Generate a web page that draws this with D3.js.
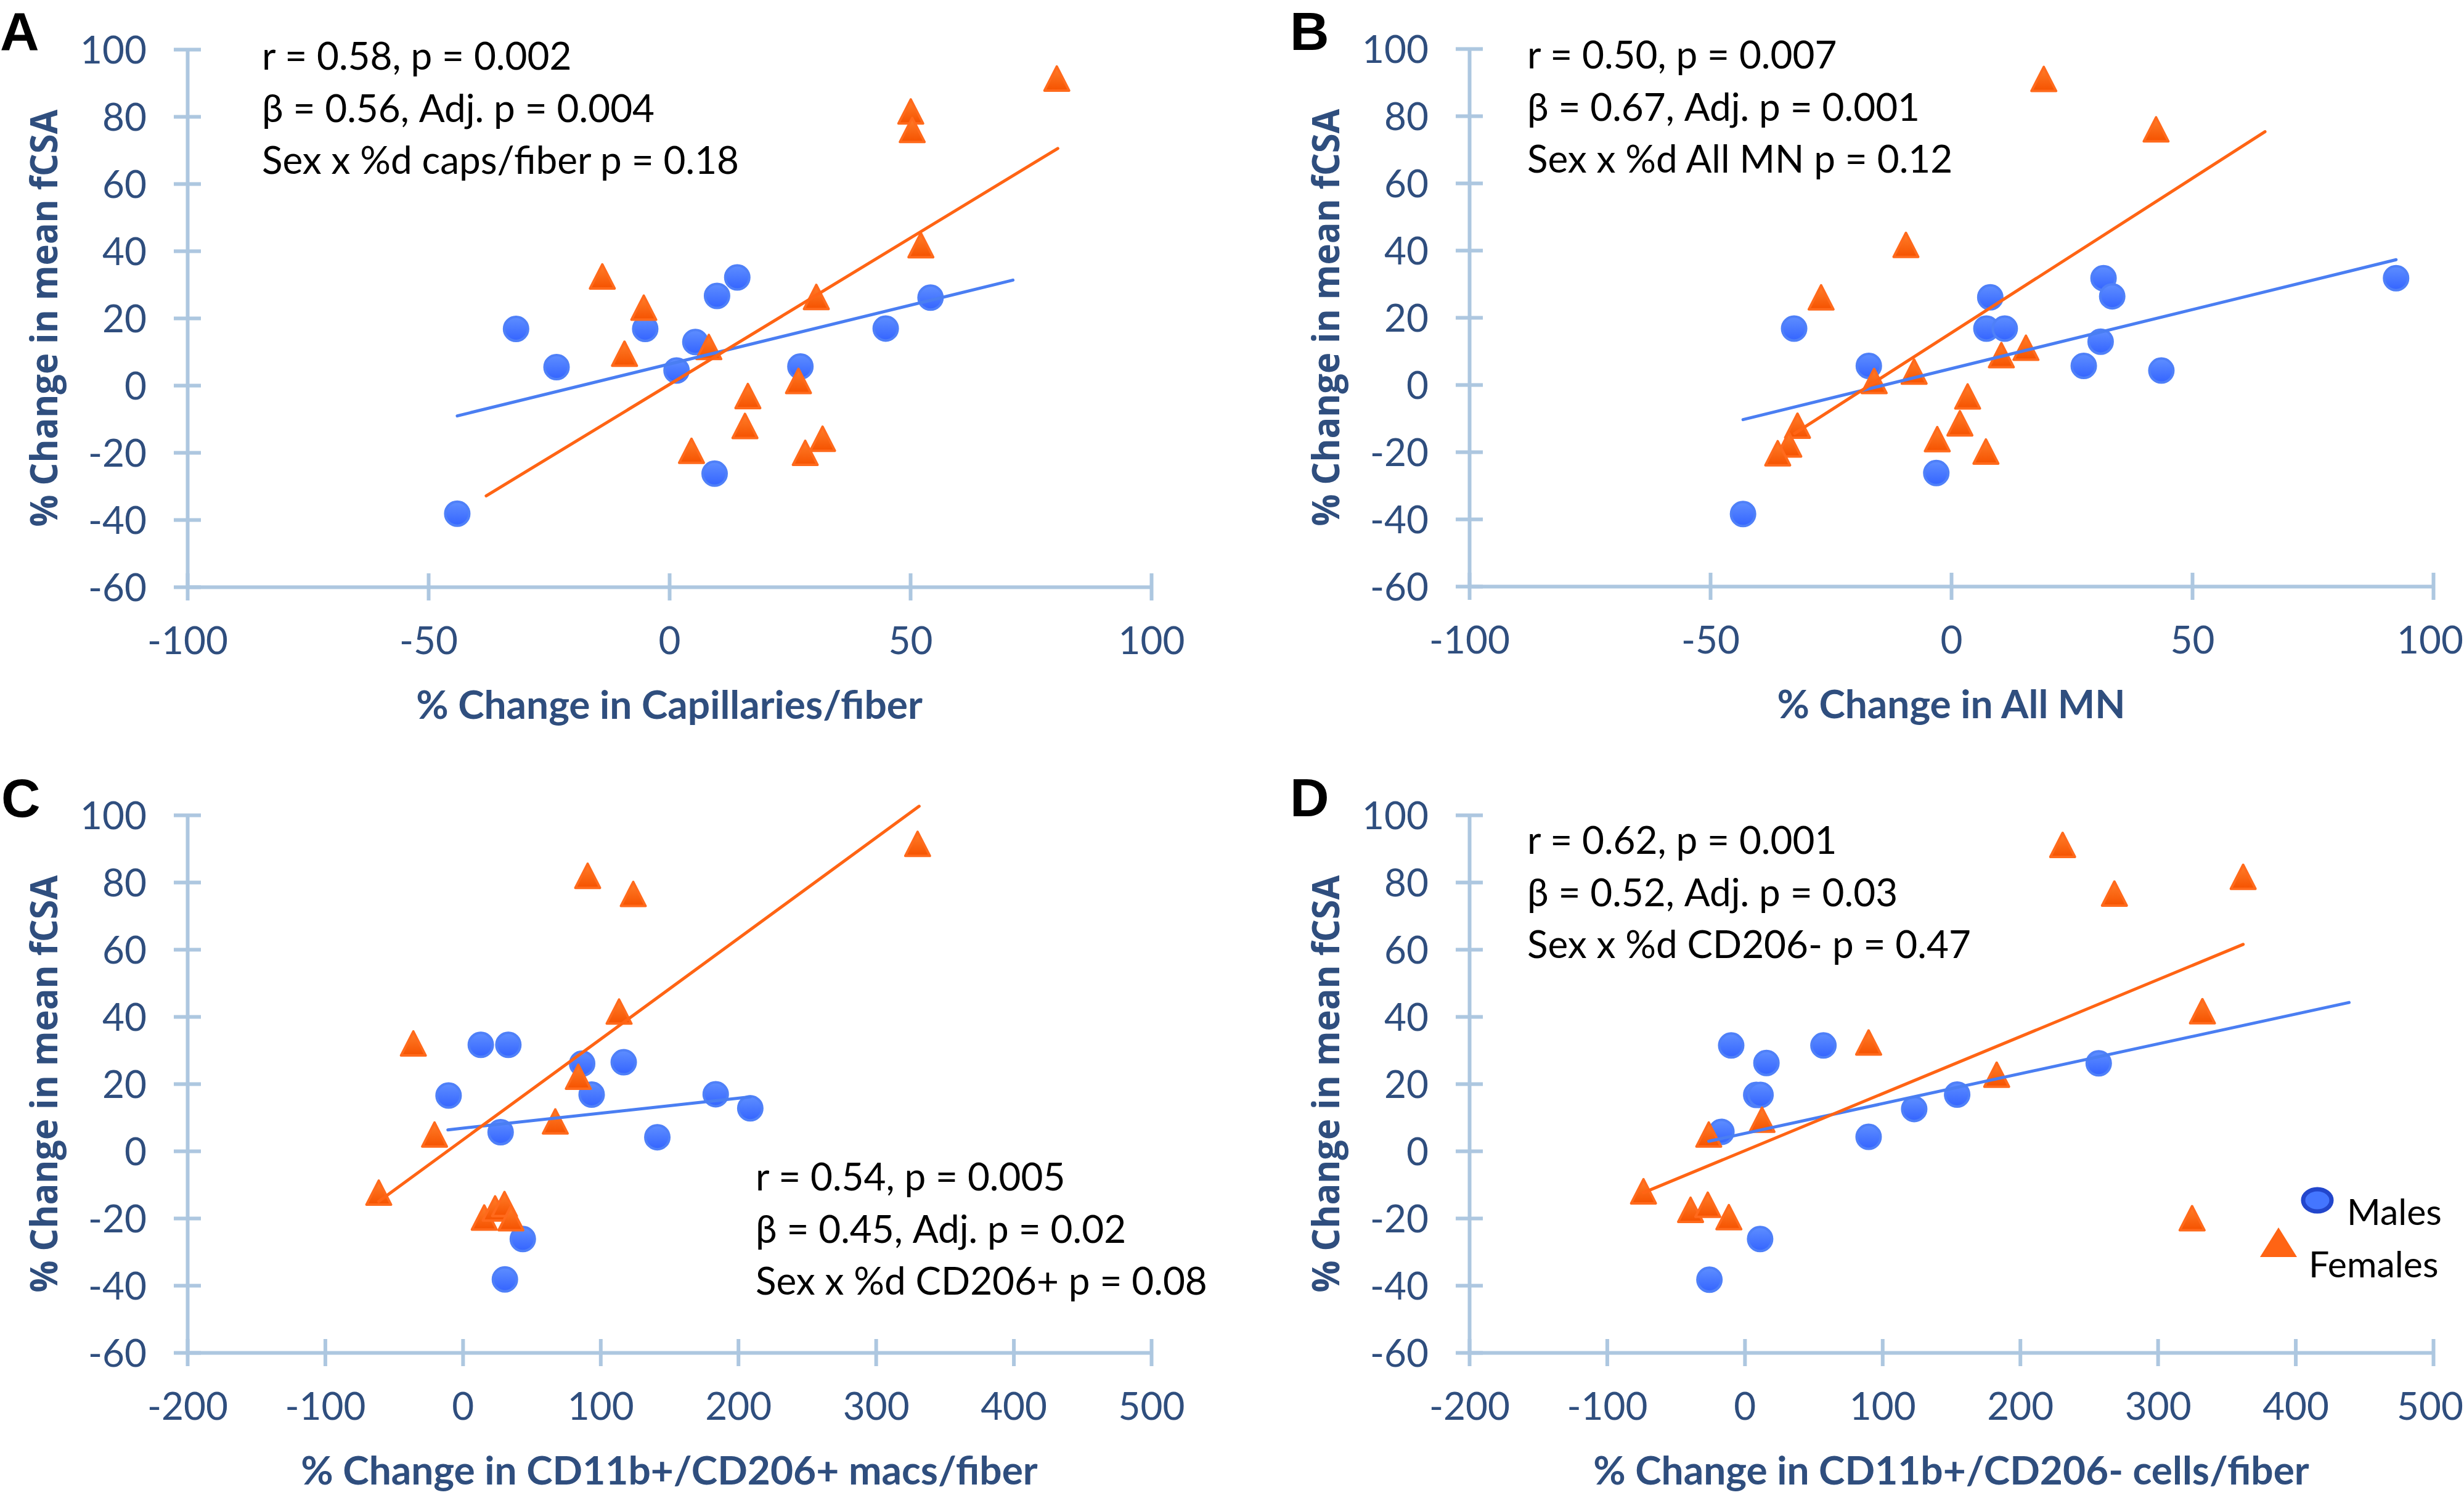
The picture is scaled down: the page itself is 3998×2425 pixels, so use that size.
<!DOCTYPE html>
<html><head><meta charset="utf-8">
<script src="https://cdn.jsdelivr.net/npm/d3@7"></script>
<style>html,body{margin:0;padding:0;background:#fff;}svg{display:block;}</style>
</head><body>
<svg id="chart" width="3998" height="2425"></svg>
<script>
// ---------------- DATA ----------------
const panelLetters = ["A", "B", "C", "D"];
const yTitle = "% Change in mean fCSA";
const xTitles = ["% Change in Capillaries/fiber", "% Change in All MN",
  "% Change in CD11b+/CD206+ macs/fiber", "% Change in CD11b+/CD206- cells/fiber"];
const yTicks = [-60, -40, -20, 0, 20, 40, 60, 80, 100];
const xTicksAB = [-100, -50, 0, 50, 100];
const xTicksCD = [-200, -100, 0, 100, 200, 300, 400, 500];
const legendLabels = ["Males", "Females"];

const statsA = ["r = 0.58, p = 0.002", "β = 0.56, Adj. p = 0.004", "Sex x %d caps/fiber p = 0.18"];
const statsB = ["r = 0.50, p = 0.007", "β = 0.67, Adj. p = 0.001", "Sex x %d All MN p = 0.12"];
const statsC = ["r = 0.54, p = 0.005", "β = 0.45, Adj. p = 0.02", "Sex x %d CD206+ p = 0.08"];
const statsD = ["r = 0.62, p = 0.001", "β = 0.52, Adj. p = 0.03", "Sex x %d CD206- p = 0.47"];

const malesA = [[-44.0,-38.2],[-31.8,16.8],[-23.4,5.4],[-5.0,16.8],[1.5,4.4],[5.4,12.9],[9.9,26.6],[14.1,32.1],[9.4,-26.3],[27.2,5.6],[44.9,16.9],[54.2,26.1]];
const femalesA = [[-13.9,32.4],[-5.3,23.1],[-9.3,9.4],[8.2,11.4],[16.3,-3.2],[15.7,-12.1],[4.6,-19.5],[26.8,1.3],[30.5,26.3],[28.2,-20.1],[31.8,-15.9],[52.2,41.7],[50.1,81.5],[50.4,76.0],[80.4,91.3]];
const maleFitA = [[-44.0,-9.1],[71.3,31.3]];
const femaleFitA = [[-38.0,-32.9],[80.6,70.5]];

const malesB = [[-43.2,-38.5],[-32.6,16.7],[-17.1,5.6],[-3.1,-26.3],[8.1,26.0],[7.3,16.7],[11.1,16.7],[27.5,5.6],[31.0,12.8],[31.6,31.7],[33.4,26.3],[43.6,4.2],[92.3,31.7]];
const femalesB = [[19.2,91.0],[42.5,76.0],[-9.4,41.6],[-27.0,26.0],[15.5,11.0],[10.4,8.8],[-7.7,3.9],[-16.0,1.1],[3.4,-3.5],[1.8,-11.5],[-31.9,-12.2],[-33.7,-17.8],[-36.0,-20.4],[-2.9,-16.2],[7.2,-19.9]];
const maleFitB = [[-43.2,-10.4],[92.3,37.2]];
const femaleFitB = [[-32.5,-14.5],[65.1,75.3]];

const malesC = [[-10.3,16.5],[13.1,31.6],[33.1,31.6],[27.5,5.6],[86.7,26.0],[93.6,16.8],[116.9,26.4],[141.3,4.1],[183.7,16.9],[208.8,12.7],[43.6,-26.2],[30.6,-38.2]];
const femalesC = [[330.3,91.4],[90.7,81.9],[123.8,76.5],[113.5,41.5],[-35.9,32.0],[83.9,22.1],[67.2,8.8],[-20.5,4.9],[-61.0,-12.4],[15.6,-19.8],[23.5,-17.1],[30.3,-15.8],[35.0,-20.0]];
const maleFitC = [[-10.8,6.3],[208.8,16.1]];
const femaleFitC = [[-61.0,-15.0],[331.4,102.6]];

const malesD = [[-9.8,31.4],[15.8,26.2],[57.2,31.4],[8.4,16.7],[11.5,16.7],[-16.9,5.7],[90.0,4.2],[123.1,12.5],[154.3,16.8],[257.1,26.1],[11.2,-26.2],[-25.6,-38.3]];
const femalesD = [[230.9,91.1],[268.5,76.6],[362.0,81.6],[332.4,41.6],[90.0,32.3],[183.0,22.7],[12.6,9.3],[-26.1,4.9],[-73.5,-12.0],[-39.3,-17.5],[-26.8,-16.0],[-11.5,-19.7],[324.9,-20.0]];
const maleFitD = [[-26.1,2.9],[438.9,44.2]];
const femaleFitD = [[-73.5,-12.4],[362.0,61.5]];

// ---------------- LAYOUT / STYLE ----------------
const panels = [
  {letter: panelLetters[0], males: malesA, females: femalesA, mFit: maleFitA, fFit: femaleFitA, xTicks: xTicksAB, xTitle: xTitles[0], stats: statsA},
  {letter: panelLetters[1], males: malesB, females: femalesB, mFit: maleFitB, fFit: femaleFitB, xTicks: xTicksAB, xTitle: xTitles[1], stats: statsB},
  {letter: panelLetters[2], males: malesC, females: femalesC, mFit: maleFitC, fFit: femaleFitC, xTicks: xTicksCD, xTitle: xTitles[2], stats: statsC},
  {letter: panelLetters[3], males: malesD, females: femalesD, mFit: maleFitD, fFit: femaleFitD, xTicks: xTicksCD, xTitle: xTitles[3], stats: statsD}
];
const W = 3998;
const origins = [[304, 80], [2384, 79], [304, 1322], [2384, 1322]];
const statsOffset = [[121, 33], [94, 32], [922, 609], [94, 63]];
const letterPos = [[0, 81], [2093, 81], [2, 1325], [2093, 1324]];
const plotW = 1564, plotH = 872;
const axisColor = "#ADC7E0", labelColor = "#2F4E7E";
const FONT = "Lato, 'Open Sans', 'Liberation Sans', sans-serif";

const svg = d3.select("#chart");
svg.append("rect").attr("width", 3998).attr("height", 2425).attr("fill", "#fff");

const defs = svg.append("defs");
const gb = defs.append("linearGradient").attr("id", "gBlue").attr("x1", 0).attr("y1", 0).attr("x2", 0).attr("y2", 1);
gb.append("stop").attr("offset", "0%").attr("stop-color", "#5E8EFF");
gb.append("stop").attr("offset", "100%").attr("stop-color", "#3464FF");
const go = defs.append("linearGradient").attr("id", "gOrange").attr("x1", 0).attr("y1", 0).attr("x2", 0).attr("y2", 1);
go.append("stop").attr("offset", "0%").attr("stop-color", "#FF7E2A");
go.append("stop").attr("offset", "100%").attr("stop-color", "#F55200");

const triW = 40, triH = 39;
const triPath = `M0,${-triH/2} L${triW/2},${triH/2} L${-triW/2},${triH/2} Z`;

panels.forEach((p, i) => {
  const [left, top] = origins[i];
  const xDom = d3.extent(p.xTicks);
  const x = d3.scaleLinear().domain(xDom).range([left, left + plotW]);
  const y = d3.scaleLinear().domain([-60, 100]).range([top + plotH, top]);
  const g = svg.append("g");

  const ya = g.append("g").attr("transform", `translate(${left},0)`)
    .call(d3.axisLeft(y).tickValues(yTicks).tickSize(0).tickSizeOuter(0).tickFormat(d => d.toString()));
  const xa = g.append("g").attr("transform", `translate(0,${top + plotH})`)
    .call(d3.axisBottom(x).tickValues(p.xTicks).tickSize(0).tickSizeOuter(0).tickFormat(d => d.toString()));

  [ya, xa].forEach(a => {
    a.attr("font-family", FONT).attr("font-size", 62).attr("color", labelColor);
    a.select(".domain").attr("stroke", axisColor).attr("stroke-width", 6);
    a.selectAll(".tick line").attr("stroke", axisColor).attr("stroke-width", 6);
    a.selectAll(".tick text").attr("fill", labelColor);
  });
  ya.selectAll(".tick line").attr("x1", -22).attr("x2", 22);
  ya.selectAll(".tick text").attr("x", -66).attr("dy", "0.36em");
  xa.selectAll(".tick line").attr("y1", -22).attr("y2", 22);
  xa.selectAll(".tick text").attr("y", 109).attr("dy", 0);
  xa.selectAll(".tick text").each(function() {
    const b = this.getBoundingClientRect();
    if (b.right > W - 1) d3.select(this).attr("x", -(b.right - (W - 1)));
  });

  g.append("text").attr("x", left + plotW / 2).attr("y", top + plotH + 214)
    .attr("text-anchor", "middle").attr("font-family", FONT).attr("font-weight", 700)
    .attr("font-size", 64).attr("fill", labelColor).text(p.xTitle);
  g.append("text").attr("transform", `translate(${left - 211},${top + plotH / 2}) rotate(-90)`)
    .attr("text-anchor", "middle").attr("font-family", "'Open Sans', 'DejaVu Sans', sans-serif").attr("font-weight", 700)
    .attr("font-size", 60).attr("fill", labelColor).attr("textLength", 677).attr("lengthAdjust", "spacingAndGlyphs")
    .text(yTitle);

  g.append("g").selectAll("circle").data(p.males).join("circle")
    .attr("cx", d => x(d[0])).attr("cy", d => y(d[1])).attr("r", 19.5)
    .attr("fill", "url(#gBlue)").attr("stroke", "#4F80F8").attr("stroke-width", 4);
  g.append("g").selectAll("path").data(p.females).join("path")
    .attr("transform", d => `translate(${x(d[0])},${y(d[1])})`).attr("d", triPath)
    .attr("fill", "url(#gOrange)").attr("stroke", "#FF6A1C").attr("stroke-width", 4).attr("stroke-linejoin", "round");

  const line = d3.line().x(d => x(d[0])).y(d => y(d[1]));
  g.append("path").attr("d", line(p.mFit)).attr("stroke", "#4A7EF2").attr("stroke-width", 5).attr("fill", "none").attr("stroke-linecap", "round");
  g.append("path").attr("d", line(p.fFit)).attr("stroke", "#FF6414").attr("stroke-width", 5).attr("fill", "none").attr("stroke-linecap", "round");

  const [sx, sy] = statsOffset[i];
  g.append("g").selectAll("text").data(p.stats).join("text")
    .attr("x", left + sx).attr("y", (d, k) => top + sy + k * 84.5)
    .attr("font-family", FONT).attr("font-size", 62).attr("fill", "#000").text(d => d);

  g.append("text").attr("x", letterPos[i][0]).attr("y", letterPos[i][1])
    .attr("font-family", "'Liberation Sans', Arial, sans-serif").attr("font-weight", 700)
    .attr("font-size", 88).attr("fill", "#000").text(p.letter);
});

// legend (panel D)
const lg = svg.append("g");
lg.append("ellipse").attr("cx", 3760).attr("cy", 1947).attr("rx", 23).attr("ry", 18)
  .attr("fill", "#4476FF").attr("stroke", "#2246CC").attr("stroke-width", 7);
lg.append("path").attr("transform", "translate(3697,2015)")
  .attr("d", "M0,-24 L30,24 L-30,24 Z").attr("fill", "#FF6414");
lg.append("text").attr("x", 3808).attr("y", 1987).attr("font-family", FONT).attr("font-size", 59).attr("fill", "#000").text(legendLabels[0]);
lg.append("text").attr("x", 3746).attr("y", 2072).attr("font-family", FONT).attr("font-size", 59).attr("fill", "#000").text(legendLabels[1]);
</script>
</body></html>
